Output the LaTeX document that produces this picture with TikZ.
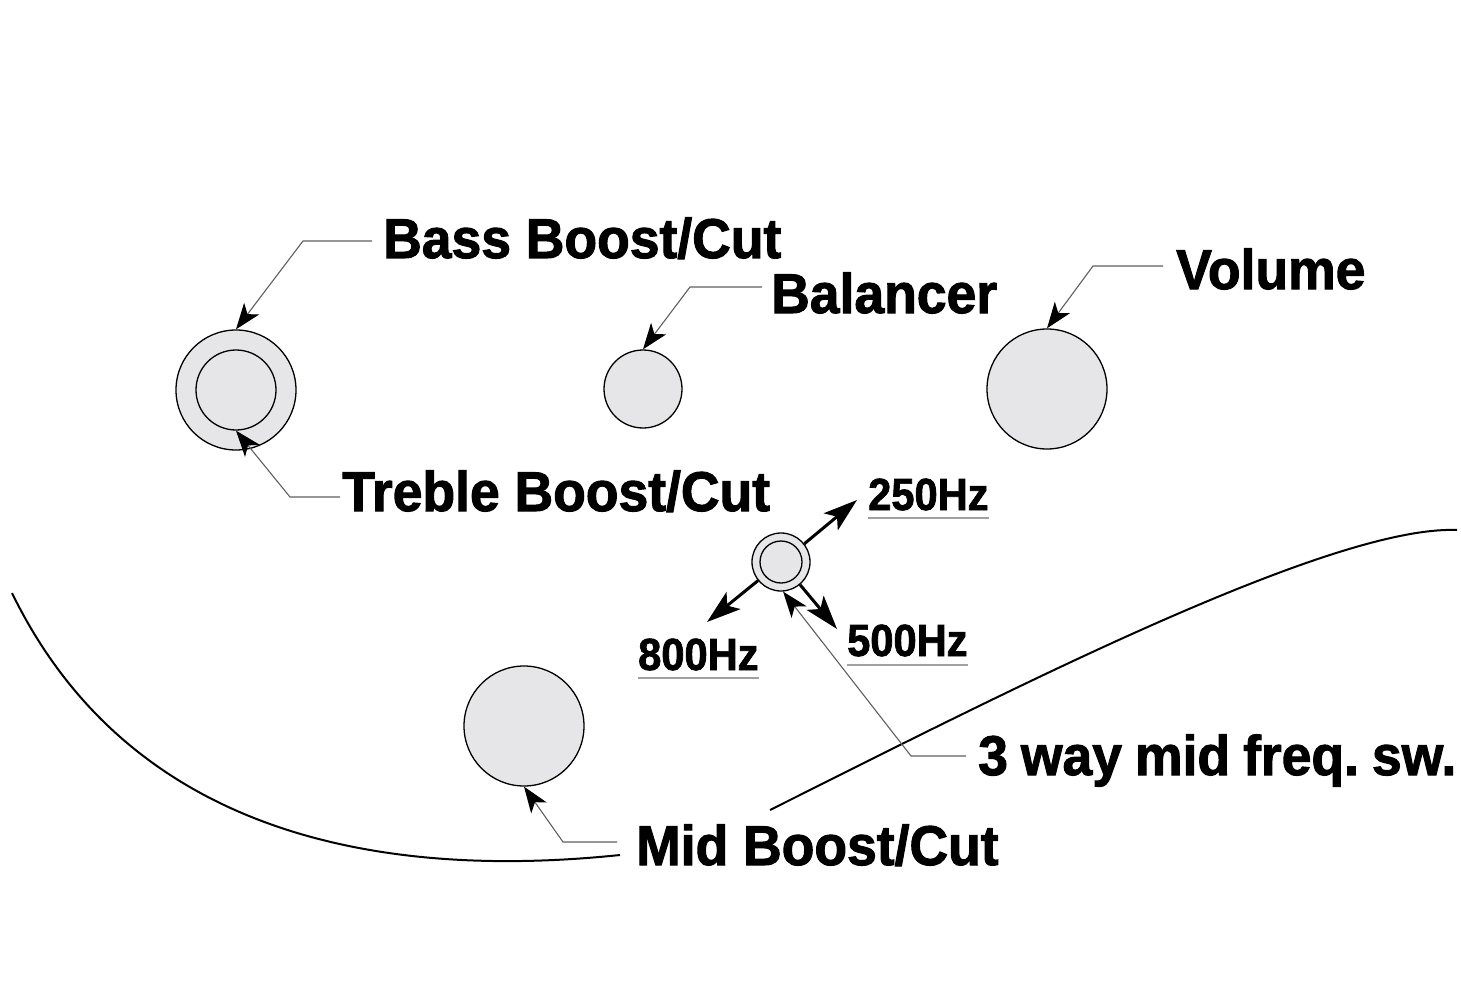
\documentclass[tikz,border=0pt]{standalone}
\usepackage{fontspec}
\newfontfamily\lbl{Liberation Sans}[FakeStretch=0.955,FakeBold=1.8]
\newfontfamily\flbl{Liberation Sans}[FakeStretch=0.925,FakeBold=1.6]
\usetikzlibrary{arrows.meta}
\definecolor{knobfill}{RGB}{230,230,232}
\definecolor{leadgray}{RGB}{95,95,95}
\definecolor{ulgray}{RGB}{160,160,160}
\newcommand{\wgap}{\hspace{13pt}}
\tikzset{
  knob/.style={circle,draw=black,line width=1.3pt,fill=knobfill,inner sep=0pt},
  bigtext/.style={anchor=base west,inner sep=0pt,font=\lbl\bfseries\fontsize{56}{60}\selectfont},
  freqtext/.style={anchor=base west,inner sep=0pt,font=\flbl\bfseries\fontsize{45}{50}\selectfont},
  leader/.style={draw=leadgray,line width=1.1pt,-{Stealth[length=26pt,width=19pt,inset=7pt,black]}},
  dirarrow/.style={draw=black,line width=3pt,-{Stealth[length=34pt,width=22pt,inset=8pt,black]}},
  uline/.style={draw=ulgray,line width=1.6pt},
  body/.style={draw=black,line width=2pt}
}
\begin{document}
\begin{tikzpicture}[x=1pt,y=-1pt]
\useasboundingbox (0,0) rectangle (1461,1000);
% body outline
\draw[body] (12,593) .. controls (130,835) and (380,880) .. (620,855);
\draw[body] (770,810) .. controls (1000,695) and (1330,525) .. (1457,530);
% knobs
\node[knob,minimum size=120pt] (bass) at (236,390) {};
\node[knob,minimum size=80pt] (treble) at (236,390) {};
\node[knob,minimum size=78pt] (bal) at (643,389) {};
\node[knob,minimum size=120pt] (vol) at (1047,389) {};
\node[knob,minimum size=120pt] (mid) at (524,726) {};
\node[knob,minimum size=58pt] (sw) at (781,562) {};
\node[knob,minimum size=42pt] (swin) at (781,562) {};
% labels
\node[bigtext] (tbass) at (383,258) {Bass Boost/Cut};
\node[bigtext] (tbal) at (771,313) {Balancer};
\node[bigtext] (tvol) at (1176,289) {Volume};
\node[bigtext] (ttreb) at (342,511) {Treble Boost/Cut};
\node[bigtext] (tsw) at (978,775) {3\wgap way\wgap mid\wgap freq.\wgap sw.};
\node[bigtext] (tmid) at (636,865) {Mid Boost/Cut};
\node[freqtext] (t250) at (868,510) {250Hz};
\node[freqtext] (t500) at (847,656) {500Hz};
\node[freqtext] (t800) at (638,670) {800Hz};
% underlines
\draw[uline] ([yshift=-8pt]t250.base west) -- ([yshift=-8pt]t250.base east);
\draw[uline] ([yshift=-9pt]t500.base west) -- ([yshift=-9pt]t500.base east);
\draw[uline] ([yshift=-8pt]t800.base west) -- ([yshift=-8pt]t800.base east);
% leader coordinates
\coordinate (bassS) at (372,241);  \coordinate (bassE) at (303,241);
\coordinate (trebS) at (340,497);  \coordinate (trebE) at (290,497);
\coordinate (balS) at (762,287);   \coordinate (balE) at (690,287);
\coordinate (volS) at (1163,266);  \coordinate (volE) at (1093,266);
\coordinate (midS) at (617,842);   \coordinate (midE) at (563,842);
\coordinate (swS) at (966,756);    \coordinate (swE) at (911,756);
% leaders
\draw[leader] (bassS) -- (bassE) -- (bass.north);
\draw[leader] (trebS) -- (trebE) -- (treble.south);
\draw[leader] (balS) -- (balE) -- (bal.north);
\draw[leader] (volS) -- (volE) -- (vol.north);
\draw[leader] (midS) -- (midE) -- (mid.south);
\draw[leader] (swS) -- (swE) -- (sw.-86);
% switch direction arrows
\coordinate (f250) at (857,500);
\coordinate (f800) at (707,622);
\coordinate (f500) at (837,629);
\draw[dirarrow] (sw.38) -- (f250);
\draw[dirarrow] (sw.-141) -- (f800);
\draw[dirarrow] (sw.-50) -- (f500);
\end{tikzpicture}
\end{document}
